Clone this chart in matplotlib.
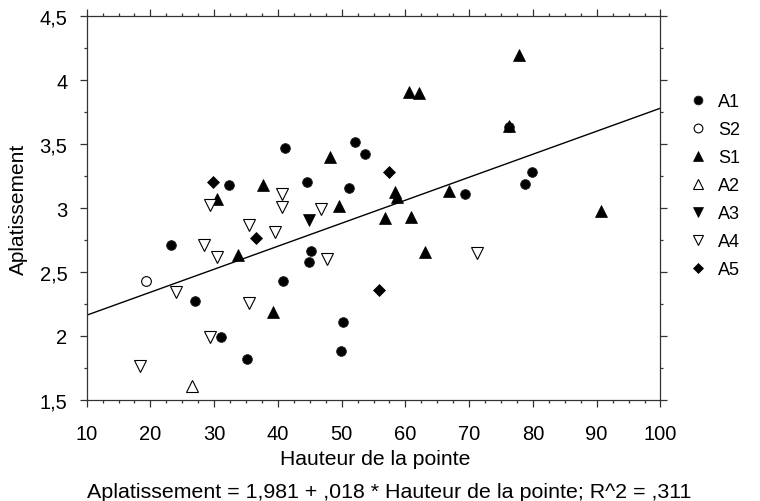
import matplotlib
matplotlib.use("Agg")
import matplotlib.pyplot as plt
from matplotlib.ticker import MultipleLocator, FuncFormatter
from matplotlib.lines import Line2D

plt.rcParams['font.family'] = ['Liberation Sans', 'DejaVu Sans']

# Hauteur de la pointe (x) and Aplatissement (y) per group
a1_x = [23.2, 27.0, 31.1, 35.2, 32.4, 41.1, 40.8, 44.5, 45.2, 44.9, 50.2, 49.9,
        51.1, 52.1, 53.7, 69.3, 78.7, 79.9, 76.2]
a1_y = [2.71, 2.27, 1.99, 1.82, 3.18, 3.47, 2.43, 3.20, 2.66, 2.58, 2.11, 1.88,
        3.16, 3.52, 3.42, 3.11, 3.19, 3.28, 3.63]

s2_x = [19.25]
s2_y = [2.43]

s1_x = [30.5, 37.7, 33.7, 39.3, 48.1, 49.6, 56.8, 58.4, 58.7, 60.85, 66.85, 63.0,
        60.5, 62.1, 77.8, 76.2, 90.6]
s1_y = [3.07, 3.18, 2.635, 2.19, 3.40, 3.015, 2.925, 3.125, 3.085, 2.93, 3.135, 2.655,
        3.91, 3.90, 4.20, 3.645, 2.98]

a2_x = [26.5]
a2_y = [1.61]

a3_x = [44.9]
a3_y = [2.91]

a4_x = [29.4, 40.6, 40.6, 35.5, 39.6, 28.4, 30.5, 24.0, 35.45, 29.3, 18.4, 46.7,
        47.7, 71.2]
a4_y = [3.02, 3.11, 3.01, 2.865, 2.815, 2.71, 2.615, 2.34, 2.26, 1.99, 1.765, 2.995,
        2.60, 2.65]

a5_x = [29.85, 36.5, 57.4, 55.9]
a5_y = [3.20, 2.765, 3.28, 2.36]

# Linear fit: Aplatissement = 1,981 + ,018 * Hauteur
fit_intercept = 1.981
fit_slope = 0.018
fit_r2 = 0.311

fig = plt.figure(figsize=(7.6, 5.02), dpi=100)
ax = fig.add_axes([0.114, 0.2018, 0.755, 0.7637])

ax.set_xlim(10, 100)
ax.set_ylim(1.5, 4.5)

groups = [
    ("A1", a1_x, a1_y, dict(marker='o', ms=7.0, mfc='black', mec='#222222', mew=0.6)),
    ("S2", s2_x, s2_y, dict(marker='o', ms=7.0, mfc='white', mec='black', mew=0.8)),
    ("S1", s1_x, s1_y, dict(marker='^', ms=8.6, mfc='black', mec='black', mew=0.5)),
    ("A2", a2_x, a2_y, dict(marker='^', ms=8.6, mfc='white', mec='black', mew=0.8)),
    ("A3", a3_x, a3_y, dict(marker='v', ms=8.6, mfc='black', mec='black', mew=0.5)),
    ("A4", a4_x, a4_y, dict(marker='v', ms=8.6, mfc='white', mec='black', mew=0.8)),
    ("A5", a5_x, a5_y, dict(marker='D', ms=6.0, mfc='black', mec='black', mew=0.5)),
]

fx = [10, 100]
fy = [fit_intercept + fit_slope * v for v in fx]
ax.plot(fx, fy, color='black', lw=1.0, zorder=2)

handles = []
for name, xs, ys, st in groups:
    ax.plot(xs, ys, linestyle='none', zorder=3, **st)
    handles.append(Line2D([], [], linestyle='none', label=name, **st))

# axes styling
ax.xaxis.set_major_locator(MultipleLocator(10))
ax.xaxis.set_minor_locator(MultipleLocator(2.5))
ax.yaxis.set_major_locator(MultipleLocator(0.5))
ax.yaxis.set_minor_locator(MultipleLocator(0.25))

def comma_fmt(v, pos):
    s = ('%g' % round(v, 2))
    return s.replace('.', ',')

ax.xaxis.set_major_formatter(FuncFormatter(comma_fmt))
ax.yaxis.set_major_formatter(FuncFormatter(comma_fmt))

ax.tick_params(which='both', direction='out', top=True, right=True,
               colors='#333333', labelcolor='black', labelsize=14.5, width=0.9)
ax.tick_params(which='major', length=4.8)
ax.tick_params(which='minor', length=2.5)
ax.tick_params(axis='x', which='major', pad=13)
ax.tick_params(axis='y', which='major', pad=9)
for sp in ax.spines.values():
    sp.set_color('#333333')
    sp.set_linewidth(0.9)

ax.set_xlabel('Hauteur de la pointe', fontsize=15.2)
ax.set_ylabel('Aplatissement', fontsize=15)
ax.xaxis.set_label_coords(0.503, -0.128)
ax.yaxis.set_label_coords(-0.102, 0.5)

eq = ('Aplatissement = %s + %s * Hauteur de la pointe; R^2 = %s' % (
    ('%.3f' % fit_intercept).replace('.', ','),
    ('%.3f' % fit_slope).lstrip('0').replace('.', ','),
    ('%.3f' % fit_r2).lstrip('0').replace('.', ',')))
fig.text(389 / 760, 1 - 498.3 / 502, eq, ha='center', va='baseline', fontsize=15.4)

leg = fig.legend(handles=handles, loc='upper left',
                 bbox_to_anchor=(680 / 760, 1 - 85 / 502),
                 frameon=False, fontsize=13, handlelength=1.0,
                 handletextpad=0.6, labelspacing=0.61, borderpad=0,
                 markerscale=0.9)

fig.savefig('out.png', dpi=100)
